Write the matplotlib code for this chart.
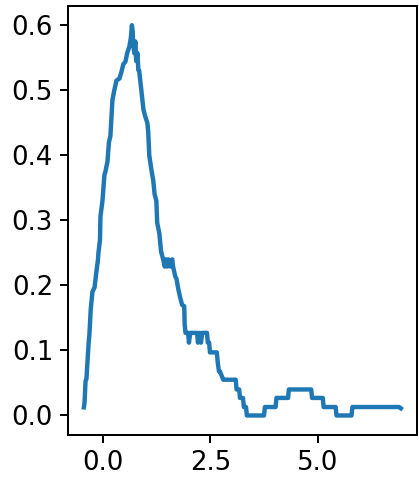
import matplotlib
matplotlib.use("Agg")
import matplotlib.pyplot as plt

x = [-0.45, -0.434, -0.41, -0.39, -0.34, -0.32, -0.29, -0.25, -0.20, -0.156, -0.12, -0.11,
     -0.074, -0.063, -0.016, 0.03, 0.053, 0.10, 0.135, 0.17, 0.216, 0.26, 0.31, 0.38,
     0.425, 0.47, 0.52, 0.56, 0.61, 0.645, 0.67, 0.69, 0.70, 0.727, 0.75, 0.77, 0.80,
     0.82, 0.84, 0.89, 0.94, 0.98, 1.03, 1.05, 1.075, 1.12, 1.17, 1.20, 1.24, 1.26,
     1.31, 1.35, 1.40, 1.435, 1.46, 1.49, 1.52, 1.56, 1.61, 1.63, 1.68, 1.71, 1.75,
     1.79, 1.84, 1.89, 1.90, 1.92, 1.98, 2.00, 2.03, 2.19, 2.21, 2.25, 2.28, 2.31, 2.42,
     2.44, 2.47, 2.49, 2.51, 2.65, 2.67, 2.70, 2.72, 2.80, 2.82, 3.09, 3.11, 3.17, 3.19,
     3.26, 3.28, 3.33, 3.35, 3.75, 3.77, 4.02, 4.04, 4.31, 4.33, 4.85, 4.87, 5.12, 5.14,
     5.42, 5.44, 5.79, 5.81, 6.90, 6.94]
y = [0.0125, 0.02, 0.053, 0.056, 0.11, 0.125, 0.163, 0.19, 0.197, 0.222, 0.24, 0.25,
     0.27, 0.306, 0.33, 0.37, 0.375, 0.39, 0.42, 0.43, 0.485, 0.50, 0.515, 0.518,
     0.528, 0.54, 0.544, 0.557, 0.567, 0.58, 0.60, 0.59, 0.57, 0.557, 0.575, 0.545, 0.557,
     0.531, 0.53, 0.50, 0.47, 0.46, 0.45, 0.437, 0.40, 0.38, 0.36, 0.34, 0.33, 0.296,
     0.28, 0.252, 0.24, 0.229, 0.24, 0.229, 0.24, 0.229, 0.24, 0.229, 0.214, 0.21, 0.195,
     0.183, 0.17, 0.168, 0.14, 0.127, 0.127, 0.112, 0.127, 0.127, 0.112, 0.127, 0.112, 0.127, 0.127,
     0.112, 0.112, 0.097, 0.097, 0.097, 0.082, 0.068, 0.068, 0.055, 0.055, 0.055, 0.040, 0.040, 0.027,
     0.027, 0.013, 0.013, 0.0, 0.0, 0.013, 0.013, 0.027, 0.027, 0.040, 0.040, 0.027, 0.027, 0.013,
     0.013, 0.0, 0.0, 0.013, 0.013, 0.011]

fig = plt.figure(figsize=(419 / 144, 479 / 144), dpi=144)
ax = fig.add_axes([68 / 419, 1 - 435 / 479, (416.7 - 68) / 419, (435 - 5.7) / 479])
ax.plot(x, y, color="#1f77b4", lw=2.2)
ax.set_xticks([0.0, 2.5, 5.0])
ax.set_yticks([0.0, 0.1, 0.2, 0.3, 0.4, 0.5, 0.6])
ax.tick_params(labelsize=13, length=4, width=1)
for s in ax.spines.values():
    s.set_linewidth(1)
fig.savefig("out.png", dpi=144)
